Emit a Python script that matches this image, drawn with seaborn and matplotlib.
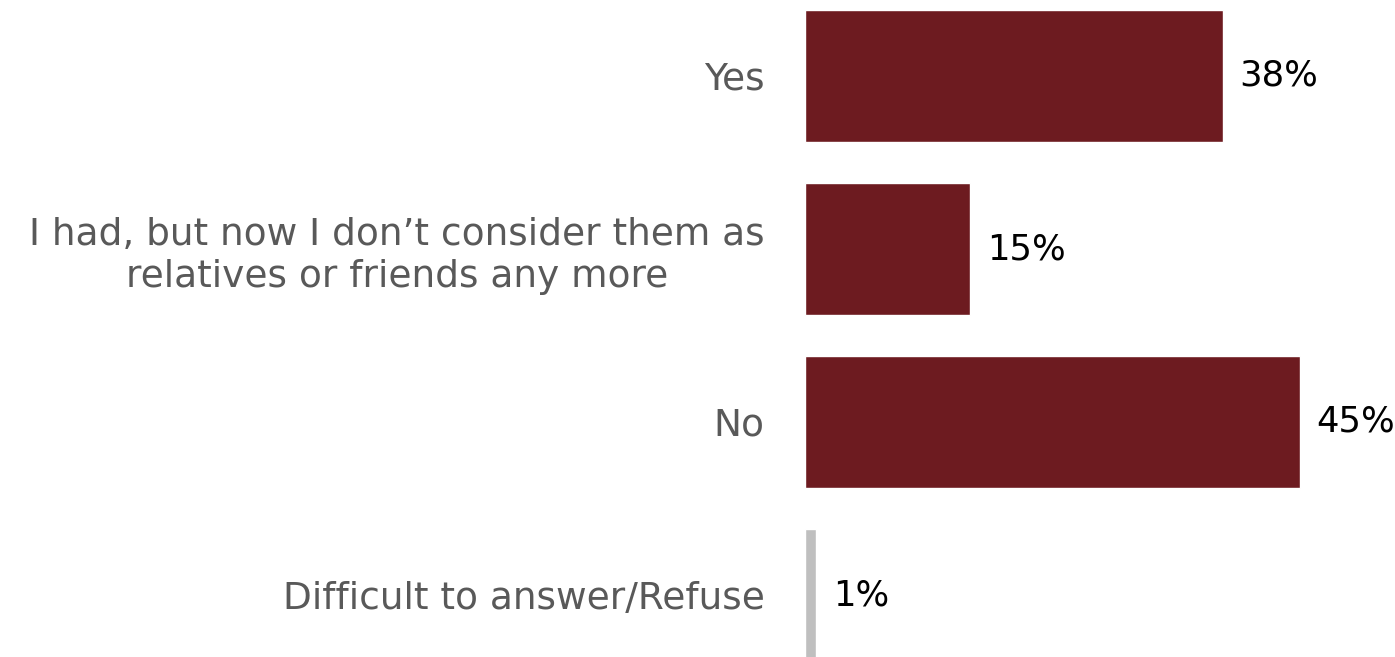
import matplotlib
matplotlib.use("Agg")
import matplotlib.pyplot as plt
import seaborn as sns
import pandas as pd

categories = [
    "Yes",
    "I had, but now I don\u2019t consider them as\nrelatives or friends any more",
    "No",
    "Difficult to answer/Refuse",
]
values = [38, 15, 45, 1]
bar_colors = ["#6D1B20", "#6D1B20", "#6D1B20", "#BFBFBF"]

df = pd.DataFrame({"answer": categories, "share": values})

sns.set_theme(style="white")
plt.rcParams["font.family"] = ["DejaVu Sans"]

fig = plt.figure(figsize=(13.95, 6.57), dpi=100)
ax = fig.add_axes([805 / 1395, 0.0, 550 / 1395, 1.0])

sns.barplot(data=df, y="answer", x="share", hue="answer", palette=bar_colors,
            saturation=1, width=0.763, legend=False, ax=ax, orient="h")

ax.set_xlim(0, 50)
ax.set_ylim(3 + 62 / 173, -76 / 173)
ax.set_xlabel("")
ax.set_ylabel("")
ax.set_xticks([])
for s in ax.spines.values():
    s.set_visible(False)

ax.tick_params(axis="y", length=0, pad=29, labelsize=27, labelcolor="#595959")
for lbl in ax.get_yticklabels():
    lbl.set_multialignment("center")

for i, v in enumerate(values):
    ax.annotate(f"{v}%", xy=(v, i), xytext=(12, 0), textcoords="offset points",
                ha="left", va="center", fontsize=25.5, color="black",
                annotation_clip=False)

fig.savefig("out.png", dpi=100)
